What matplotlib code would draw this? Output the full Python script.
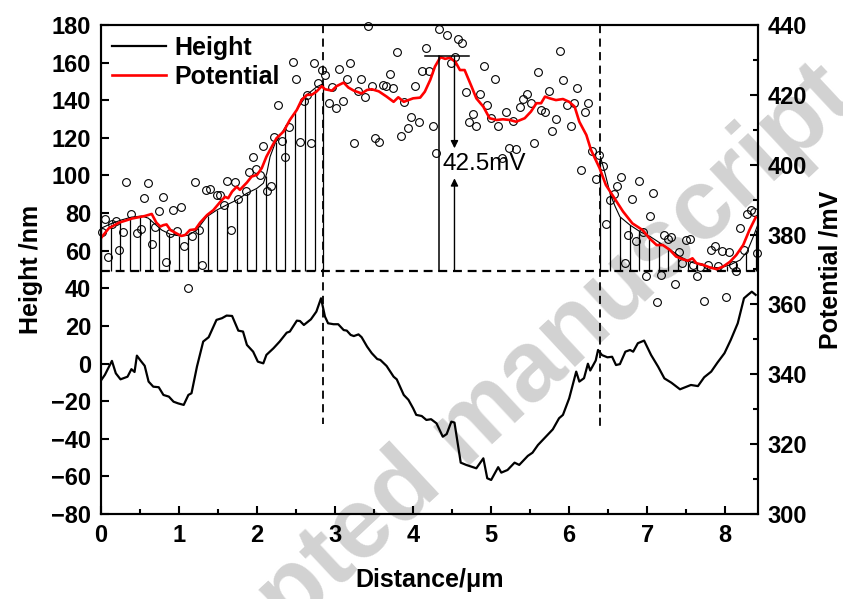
import numpy as np
import matplotlib.pyplot as plt
from matplotlib.ticker import MultipleLocator

plt.rcParams['font.family'] = ['Liberation Sans', 'DejaVu Sans']
plt.rcParams['font.weight'] = 'bold'

# height profile (left axis, nm)
height_x = [0.01, 0.05, 0.14, 0.19, 0.25, 0.34, 0.39, 0.43, 0.46, 0.51, 0.56, 0.61, 0.67, 0.74,
            0.80, 0.87, 0.93, 0.99, 1.06, 1.12, 1.16, 1.23, 1.31, 1.38, 1.48, 1.55, 1.61, 1.68,
            1.76, 1.82, 1.87, 1.95, 2.01, 2.08, 2.12, 2.21, 2.29, 2.38, 2.42, 2.51, 2.55, 2.60,
            2.69, 2.76, 2.82, 2.87, 2.91, 2.98, 3.04, 3.11, 3.15, 3.20, 3.24, 3.30, 3.34, 3.41,
            3.47, 3.54, 3.58, 3.66, 3.75, 3.79, 3.88, 3.94, 4.00, 4.04, 4.11, 4.17, 4.23, 4.30,
            4.38, 4.43, 4.49, 4.53, 4.61, 4.68, 4.81, 4.90, 4.95, 5.00, 5.09, 5.13, 5.21, 5.30,
            5.36, 5.47, 5.53, 5.60, 5.70, 5.79, 5.87, 5.92, 6.00, 6.09, 6.13, 6.19, 6.24, 6.27,
            6.34, 6.37, 6.42, 6.49, 6.55, 6.60, 6.65, 6.72, 6.78, 6.82, 6.88, 6.96, 7.05, 7.14,
            7.22, 7.31, 7.42, 7.48, 7.56, 7.65, 7.73, 7.82, 7.90, 7.99, 8.07, 8.16, 8.24, 8.29,
            8.34, 8.39]
height_nm = [-8.4, -6.0, 1.4, -5.2, -8.4, -7.0, -3.0, -4.5, 4.2, 1.4, -1.2, -9.6, -12.3, -12.6,
             -16.7, -17.6, -20.3, -21.2, -22.0, -16.7, -15.8, -1.6, 11.7, 14.0, 23.2, 24.1, 25.5, 25.3,
             17.5, 17.0, 9.9, 6.3, 1.0, 0.1, 4.6, 8.1, 11.7, 16.4, 17.0, 22.8, 22.6, 20.5,
             23.5, 27.6, 34.7, 25.0, 21.4, 20.9, 20.9, 17.8, 17.5, 15.2, 14.6, 15.5, 14.0, 9.0,
             5.5, 2.4, 1.9, -1.3, -7.0, -8.4, -16.7, -19.3, -23.8, -27.3, -27.9, -30.0, -29.6, -31.8,
             -38.9, -37.5, -30.9, -31.4, -52.7, -53.9, -55.7, -50.4, -61.0, -61.9, -55.1, -58.0, -56.6, -52.7,
             -53.9, -49.1, -47.4, -43.3, -38.9, -35.0, -29.1, -27.3, -18.5, -4.3, -9.6, -7.8, -0.1, -3.7,
             1.6, 7.2, 4.5, 3.3, 3.6, -0.8, -0.3, 6.3, 7.2, 6.3, 10.8, 12.2, 4.5, -1.7,
             -7.9, -10.2, -13.7, -12.7, -11.4, -12.0, -7.3, -4.3, 0.5, 5.5, 12.5, 21.4, 34.7, 36.5,
             38.2, 36.5]

# averaged surface potential (right axis, mV)
pot_x = [0.00, 0.10, 0.23, 0.40, 0.56, 0.65, 0.71, 0.76, 0.80, 0.84, 0.89, 0.97, 1.03, 1.08,
         1.14, 1.21, 1.27, 1.36, 1.44, 1.53, 1.59, 1.63, 1.68, 1.74, 1.78, 1.87, 1.93, 2.00,
         2.06, 2.12, 2.19, 2.25, 2.34, 2.42, 2.51, 2.57, 2.64, 2.70, 2.76, 2.83, 2.87, 2.96,
         3.02, 3.11, 3.17, 3.24, 3.34, 3.41, 3.47, 3.56, 3.66, 3.75, 3.81, 3.88, 4.00, 4.09,
         4.15, 4.22, 4.28, 4.35, 4.41, 4.47, 4.54, 4.60, 4.66, 4.75, 4.81, 4.90, 4.98, 5.07,
         5.15, 5.24, 5.32, 5.43, 5.51, 5.58, 5.64, 5.69, 5.75, 5.83, 5.92, 6.00, 6.07, 6.13,
         6.22, 6.28, 6.39, 6.47, 6.58, 6.69, 6.81, 6.94, 7.03, 7.12, 7.20, 7.29, 7.37, 7.46,
         7.52, 7.58, 7.63, 7.72, 7.80, 7.89, 7.97, 8.06, 8.14, 8.23, 8.31, 8.39]
pot_mv = [379.0, 381.8, 383.4, 384.6, 385.3, 385.9, 383.4, 382.3, 382.7, 382.9, 381.3, 380.3, 379.6, 379.9,
          381.3, 381.5, 383.4, 385.6, 387.0, 389.4, 390.8, 390.4, 392.3, 393.7, 392.8, 394.9, 396.6, 397.1,
          399.0, 402.3, 405.2, 407.6, 409.5, 412.8, 415.7, 418.5, 420.0, 420.0, 420.9, 422.5, 421.6, 421.2,
          422.5, 423.5, 422.1, 421.2, 420.4, 421.4, 421.6, 421.0, 419.5, 418.0, 419.3, 418.0, 419.0, 419.2,
          420.9, 424.3, 428.1, 430.8, 430.3, 430.6, 429.5, 427.1, 427.1, 422.3, 419.0, 416.6, 413.3, 412.8,
          413.0, 412.8, 412.3, 413.3, 415.2, 417.6, 417.6, 419.5, 419.0, 418.5, 418.8, 418.0, 416.6, 412.3,
          408.5, 404.2, 399.0, 394.2, 390.4, 386.6, 383.2, 381.3, 378.9, 377.0, 377.0, 375.6, 373.7, 372.9,
          372.5, 373.2, 371.8, 371.3, 370.6, 370.1, 370.8, 372.2, 374.1, 377.0, 381.3, 384.9]

# raw potential readings
raw_x = [0.009, 0.047, 0.094, 0.137, 0.188, 0.235, 0.278, 0.324, 0.381, 0.465, 0.513, 0.555, 0.606, 0.654,
         0.696, 0.747, 0.791, 0.837, 0.885, 0.927, 0.978, 1.022, 1.068, 1.115, 1.163, 1.209, 1.253, 1.299,
         1.346, 1.397, 1.483, 1.529, 1.577, 1.619, 1.671, 1.714, 1.760, 1.855, 1.901, 1.945, 1.991, 2.042,
         2.081, 2.132, 2.179, 2.218, 2.269, 2.317, 2.363, 2.414, 2.458, 2.500, 2.551, 2.603, 2.641, 2.688,
         2.735, 2.778, 2.829, 2.876, 2.919, 2.965, 3.009, 3.055, 3.103, 3.150, 3.196, 3.240, 3.291, 3.333,
         3.381, 3.427, 3.474, 3.517, 3.564, 3.612, 3.658, 3.701, 3.747, 3.795, 3.842, 3.888, 3.936, 3.978,
         4.026, 4.073, 4.119, 4.167, 4.209, 4.260, 4.295, 4.337, 4.440, 4.487, 4.538, 4.581, 4.628, 4.676,
         4.722, 4.765, 4.812, 4.863, 4.906, 4.953, 5.000, 5.047, 5.094, 5.141, 5.188, 5.231, 5.278, 5.324,
         5.368, 5.414, 5.462, 5.509, 5.555, 5.599, 5.645, 5.692, 5.735, 5.786, 5.829, 5.876, 5.923, 5.971,
         6.017, 6.064, 6.106, 6.154, 6.201, 6.247, 6.295, 6.342, 6.388, 6.436, 6.478, 6.526, 6.573, 6.615,
         6.667, 6.709, 6.756, 6.804, 6.850, 6.894, 6.940, 6.987, 7.035, 7.077, 7.124, 7.171, 7.218, 7.265,
         7.308, 7.359, 7.406, 7.449, 7.496, 7.542, 7.586, 7.632, 7.679, 7.727, 7.773, 7.821, 7.868, 7.910,
         7.958, 8.004, 8.051, 8.094, 8.141, 8.188, 8.235, 8.282, 8.329, 8.372, 8.410]
raw_mv = [380.8, 384.5, 373.5, 383.0, 383.9, 375.6, 380.7, 395.0, 385.8, 380.4, 381.5, 390.6, 394.7, 377.2,
          382.1, 386.7, 390.8, 372.1, 380.4, 387.0, 381.0, 387.8, 376.8, 364.7, 379.6, 395.1, 381.3, 371.2,
          392.7, 393.1, 391.3, 391.3, 388.6, 395.4, 381.2, 395.1, 390.1, 392.5, 397.8, 402.1, 398.7, 397.1,
          405.4, 392.5, 393.9, 408.0, 417.0, 406.9, 402.1, 410.9, 429.5, 424.5, 406.6, 418.3, 420.0, 406.1,
          429.0, 423.3, 427.1, 425.7, 417.6, 422.3, 416.3, 427.4, 418.2, 424.5, 429.0, 406.3, 421.2, 424.5,
          419.3, 439.7, 422.5, 407.6, 406.6, 422.8, 422.6, 426.1, 422.0, 432.2, 408.2, 418.0, 410.4, 413.6,
          422.6, 412.2, 426.9, 433.4, 426.8, 411.2, 403.3, 438.8, 437.1, 429.2, 430.8, 436.0, 434.8, 420.7,
          412.3, 414.4, 411.1, 420.2, 428.3, 417.2, 413.4, 424.6, 411.1, 402.0, 415.0, 404.7, 412.6, 404.5,
          416.4, 418.7, 420.2, 417.6, 406.3, 426.5, 415.7, 415.2, 421.0, 409.7, 413.0, 432.6, 424.3, 417.1,
          411.0, 417.7, 422.0, 398.5, 415.0, 417.7, 403.9, 395.9, 402.8, 399.6, 383.0, 389.9, 391.5, 393.9,
          396.4, 371.8, 379.9, 390.3, 378.2, 395.4, 380.8, 368.2, 385.3, 391.8, 360.7, 368.5, 380.0, 378.6,
          379.2, 365.9, 375.1, 372.0, 378.4, 378.6, 371.3, 368.1, 370.8, 361.1, 371.2, 375.5, 376.6, 371.0,
          375.4, 362.2, 374.9, 371.3, 369.6, 381.8, 375.6, 385.8, 387.0, 386.5, 374.6]

# smoothed potential outlining the two shaded zones
fit1_x = [0.0, 0.137, 0.265, 0.394, 0.522, 0.606, 0.692, 0.778, 0.885, 1.013, 1.119, 1.227, 1.355,
          1.483, 1.612, 1.740, 1.868, 1.996, 2.081, 2.124, 2.167, 2.231, 2.381, 2.509, 2.637, 2.765, 2.84]
fit1_mv = [381.8, 383.2, 384.2, 385.0, 385.3, 384.7, 383.0, 381.3, 380.1, 379.6, 379.8, 381.3, 385.1,
           387.0, 388.5, 389.9, 391.8, 393.2, 394.7, 397.5, 402.3, 406.1, 411.4, 415.7, 420.0, 422.3, 423.1]
fit2_x = [6.40, 6.46, 6.53, 6.59, 6.65, 6.78, 6.91, 7.04, 7.17, 7.30, 7.42, 7.55, 7.68, 7.81, 7.94,
          8.06, 8.19, 8.28, 8.36, 8.42]
fit2_mv = [402.3, 397.5, 391.3, 388.0, 385.1, 382.7, 380.8, 379.4, 377.5, 375.6, 373.7, 372.2, 371.3,
           370.6, 370.5, 371.3, 372.7, 375.1, 379.4, 383.0]

base_mv = 369.6          # reference level of the shaded zones
boundary_x = [2.84, 6.40]
boundary_low = [-32, -34]

peak_mv = 431.1
peak_x = 4.33
diff_label = '42.5mV'

fig = plt.figure(figsize=(8.43, 5.99), dpi=100)
ax = fig.add_axes([0.1198, 0.1419, 0.7794, 0.8164])
ax.patch.set_visible(False)
ax2 = ax.twinx()

fig.text(0.5575, 0.282, 'Accepted manuscript', rotation=43, color='#d2d2d2', fontsize=72,
         fontweight='bold', ha='center', va='center', zorder=-1)

h_line, = ax.plot(height_x, height_nm, color='black', lw=1.6, label='Height')
for bx, lo in zip(boundary_x, boundary_low):
    ax.plot([bx, bx], [180, lo], color='black', lw=1.3, linestyle=(0, (4.5, 3)))

# vertical hatch between the reference level and the smoothed curve
step = 0.1244
for fx, fy, start, stop in [(fit1_x, fit1_mv, 0.0, 2.84), (fit2_x, fit2_mv, 6.40, 8.42)]:
    xs = np.append(np.arange(start, stop - 0.02, step), stop)
    tops = np.interp(xs, fx, fy)
    ax2.vlines(xs, base_mv, tops, color='black', lw=0.9)
    ax2.plot(fx, fy, color='black', lw=0.8)

ax2.axhline(base_mv, color='black', lw=1.6, linestyle=(0, (4, 2.6)))
ax2.plot(raw_x, raw_mv, 'o', mfc='none', mec='black', ms=5.6, mew=0.8, clip_on=False)
p_line, = ax2.plot(pot_x, pot_mv, color='#ff0000', lw=1.9, label='Potential')

# peak-to-baseline marker
ax2.plot([peak_x, peak_x], [base_mv, peak_mv], color='black', lw=1.1)
ax2.plot([peak_x - 0.18, peak_x + 0.39], [peak_mv, peak_mv], color='black', lw=1.1)
arrow = dict(arrowstyle='-|>', color='black', lw=1.0, mutation_scale=11, shrinkA=0, shrinkB=0)
ax2.annotate('', xy=(peak_x + 0.2, 404.7), xytext=(peak_x + 0.2, peak_mv), arrowprops=arrow)
ax2.annotate('', xy=(peak_x + 0.2, 396.1), xytext=(peak_x + 0.2, base_mv), arrowprops=arrow)
ax2.text(peak_x + 0.05, 400.2, diff_label, fontsize=17.5, fontweight='normal', va='center', ha='left')

ax.set_xlim(0, 8.42)
ax.set_ylim(-80, 180)
ax2.set_ylim(300, 440)
ax.set_yticks(np.arange(-80, 181, 20))
ax.xaxis.set_major_locator(MultipleLocator(1))
ax.xaxis.set_minor_locator(MultipleLocator(0.5))
ax2.yaxis.set_major_locator(MultipleLocator(20))
ax2.yaxis.set_minor_locator(MultipleLocator(10))

ax.tick_params(axis='both', which='major', direction='in', length=6, width=1.5, labelsize=17, pad=7)
ax.tick_params(axis='x', which='minor', direction='in', length=3.5, width=1.5)
ax.tick_params(top=False, right=False, which='both')
ax2.tick_params(axis='y', which='major', direction='in', length=6, width=1.5, labelsize=17, pad=7)
ax2.tick_params(axis='y', which='minor', direction='in', length=3.5, width=1.5)
for a in (ax, ax2):
    for s in a.spines.values():
        s.set_linewidth(1.5)

ax.set_xlabel('Distance/μm', fontsize=18, fontweight='bold', labelpad=15)
ax.set_ylabel('Height /nm', fontsize=18, fontweight='bold', labelpad=6)
ax2.set_ylabel('Potential /mV', fontsize=18, fontweight='bold', labelpad=8)

ax2.legend(handles=[h_line, p_line], loc='upper left', frameon=False,
           prop={'size': 18, 'weight': 'bold'}, handlelength=2.15, handletextpad=0.35,
           borderaxespad=0.05, labelspacing=0.2)

fig.savefig('out.png', dpi=100)
